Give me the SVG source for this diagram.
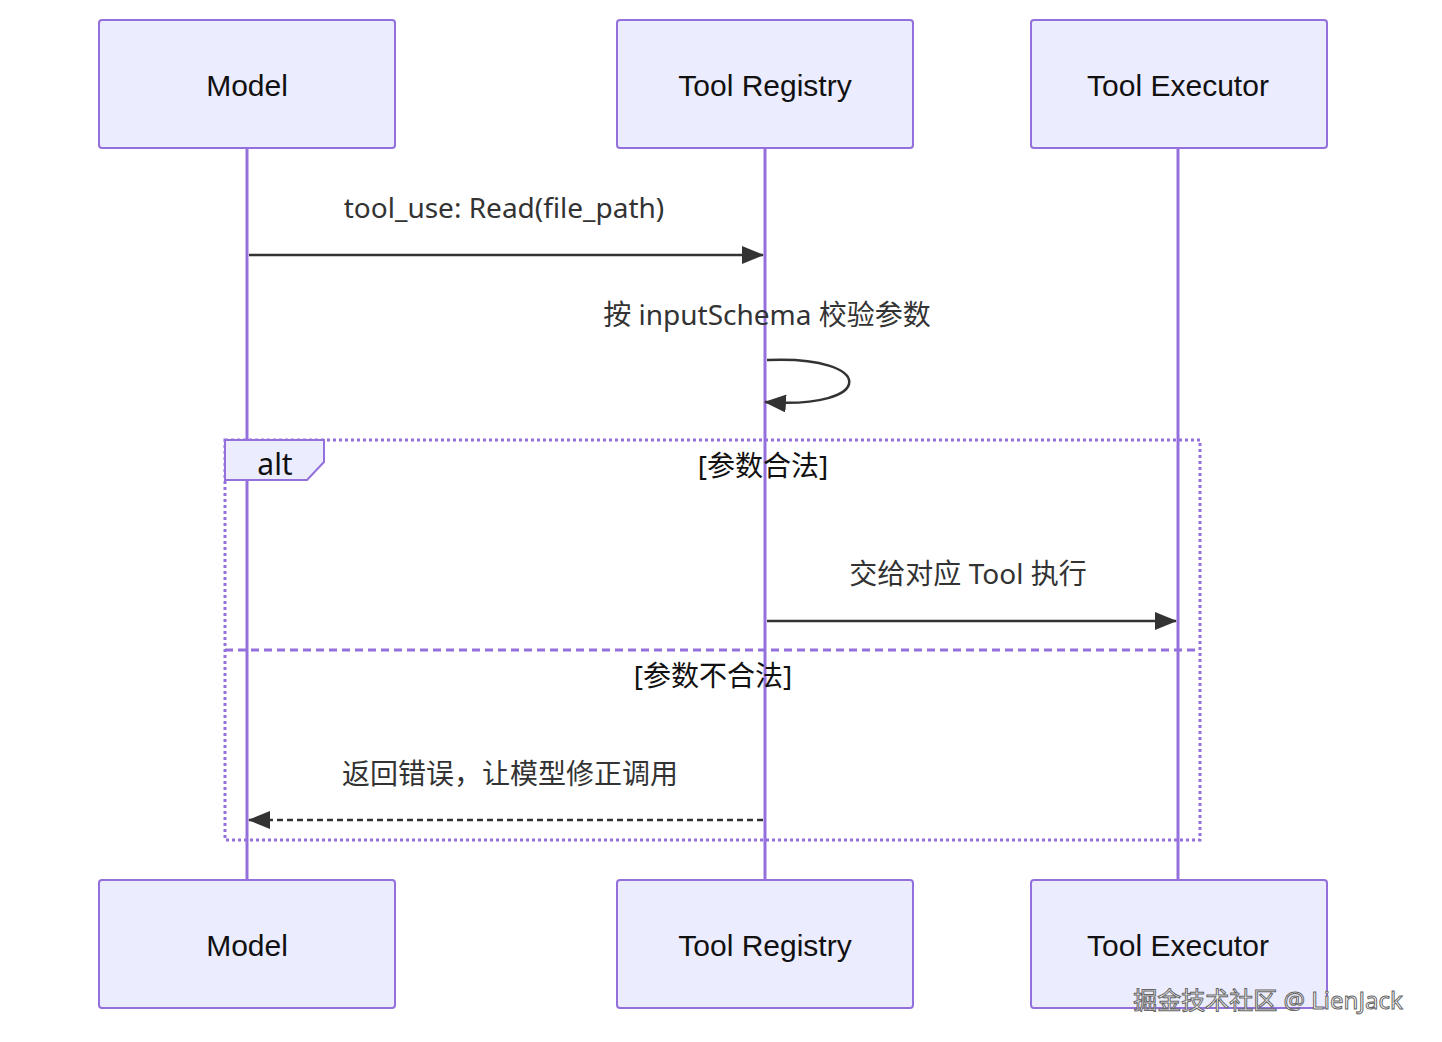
<svg xmlns="http://www.w3.org/2000/svg" width="1442" height="1042" viewBox="0 0 1442 1042">
<style>
.box{fill:#ECECFF;stroke:#9370DB;stroke-width:2}
.life{stroke:#9370DB;stroke-width:3}
.t{font-family:"Liberation Sans","Noto Sans CJK SC",sans-serif;font-size:30px;fill:#111;text-anchor:middle}
.m{font-family:"Noto Sans","Noto Sans CJK SC",sans-serif;font-size:28px;fill:#333;text-anchor:middle}
.msg{stroke:#333;stroke-width:2.5;fill:none}
.loop{stroke:#9370DB;stroke-width:3;fill:none}
</style>
<defs>
<marker id="ah" markerWidth="12" markerHeight="12" refX="11" refY="6" orient="auto" markerUnits="userSpaceOnUse" viewBox="0 0 12 12"><path d="M0,0 L12,6 L0,12 z" fill="#333"/></marker>
<marker id="ah2" markerWidth="22" markerHeight="18" refX="21" refY="9" orient="auto" markerUnits="userSpaceOnUse" viewBox="0 0 22 18"><path d="M0,0 L22,9 L0,18 z" fill="#333"/></marker>
</defs>
<rect width="1442" height="1042" fill="#fff"/>
<g id="lifelines">
<line class="life" x1="247" y1="148" x2="247" y2="880"/>
<line class="life" x1="765" y1="148" x2="765" y2="880"/>
<line class="life" x1="1178" y1="148" x2="1178" y2="880"/>
</g>
<g id="alt">
<rect x="225" y="440" width="975" height="400" class="loop" stroke-dasharray="3,3"/>
<line x1="225" y1="650" x2="1200" y2="650" class="loop" stroke-dasharray="8,5"/>
<path d="M225,440 H324 V462 L307,480 H225 Z" fill="#ECECFF" stroke="#9370DB" stroke-width="2"/>
<text x="275" y="475" class="t" style="font-family:'Noto Sans',sans-serif">alt</text>
<text x="763" y="476" class="m" style="fill:#111">[参数合法]</text>
<text x="713" y="686" class="m" style="fill:#111">[参数不合法]</text>
</g>
<g id="model-top"><rect class="box" x="99" y="20" width="296" height="128" rx="3"/><text class="t" x="247" y="96">Model</text></g>
<g id="registry-top"><rect class="box" x="617" y="20" width="296" height="128" rx="3"/><text class="t" x="765" y="96">Tool Registry</text></g>
<g id="executor-top"><rect class="box" x="1031" y="20" width="296" height="128" rx="3"/><text class="t" x="1178" y="96">Tool Executor</text></g>
<g id="model-bottom"><rect class="box" x="99" y="880" width="296" height="128" rx="3"/><text class="t" x="247" y="956">Model</text></g>
<g id="registry-bottom"><rect class="box" x="617" y="880" width="296" height="128" rx="3"/><text class="t" x="765" y="956">Tool Registry</text></g>
<g id="executor-bottom"><rect class="box" x="1031" y="880" width="296" height="128" rx="3"/><text class="t" x="1178" y="956">Tool Executor</text></g>
<g id="connectors">
<line class="msg" x1="249" y1="255" x2="763" y2="255" marker-end="url(#ah2)"/>
<text class="m" x="504" y="218">tool_use: Read(file_path)</text>
<path class="msg" d="M767,360 C877,355 877,410 765,402" marker-end="url(#ah2)"/>
<text class="m" x="767" y="325">按 inputSchema 校验参数</text>
<line class="msg" x1="767" y1="621" x2="1176" y2="621" marker-end="url(#ah2)"/>
<text class="m" x="968" y="584">交给对应 Tool 执行</text>
<line class="msg" x1="763" y1="820" x2="249" y2="820" stroke-dasharray="6,4" marker-end="url(#ah2)"/>
<text class="m" x="510" y="784">返回错误，让模型修正调用</text>
</g>
<text x="1268" y="1009" style="font-family:'Noto Sans','Noto Sans CJK SC',sans-serif;font-size:24px;fill:#fff;stroke:#666;stroke-width:1;text-anchor:middle">掘金技术社区 @ LienJack</text>
</svg>
